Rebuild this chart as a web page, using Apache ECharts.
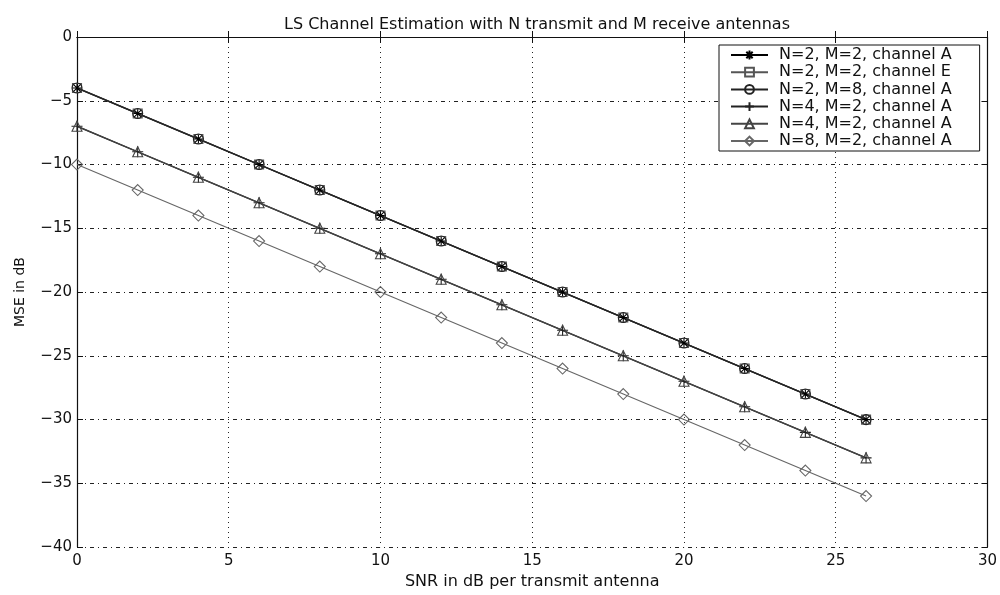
<!DOCTYPE html>
<html><head><meta charset="utf-8">
<script src="https://cdn.jsdelivr.net/npm/echarts@6/dist/echarts.min.js"></script>
<style>html,body{margin:0;padding:0;background:#fff}#c{width:1000px;height:595px}</style>
</head><body><div id="c"></div>
<script>
const snr = [0,2,4,6,8,10,12,14,16,18,20,22,24,26];
const n2m2A = [-4,-6,-8,-10,-12,-14,-16,-18,-20,-22,-24,-26,-28,-30];
const n2m2E = [-4,-6,-8,-10,-12,-14,-16,-18,-20,-22,-24,-26,-28,-30];
const n2m8A = [-4,-6,-8,-10,-12,-14,-16,-18,-20,-22,-24,-26,-28,-30];
const n4m2A_plus = [-7,-9,-11,-13,-15,-17,-19,-21,-23,-25,-27,-29,-31,-33];
const n4m2A_tri = [-7,-9,-11,-13,-15,-17,-19,-21,-23,-25,-27,-29,-31,-33];
const n8m2A = [-10,-12,-14,-16,-18,-20,-22,-24,-26,-28,-30,-32,-34,-36];
// trailing space only keeps the two identical labels distinct; trimmed when shown
const names = ['N=2, M=2, channel A','N=2, M=2, channel E','N=2, M=8, channel A','N=4, M=2, channel A','N=4, M=2, channel A ','N=8, M=2, channel A'];
const xTicks = {min:0,max:30,interval:5};
const yTicks = {min:-40,max:0,interval:5};

const FONT = 'DejaVu Sans, Liberation Sans, Arial, sans-serif';
const STAR = 'path://M0,-5L0,5M-5,0L5,0M-3.6,-3.6L3.6,3.6M-3.6,3.6L3.6,-3.6';
const PLUS = 'path://M0,-5L0,5M-5,0L5,0';
function pts(ys){ return snr.map((x,i)=>[x,ys[i]]); }
function mk(name, ys, symbol, color, size, width){
  return {
    name, type:'line', data:pts(ys), symbol, symbolSize:size,
    showAllSymbol:true, clip:false,
    lineStyle:{color, width},
    itemStyle:{color:'rgba(0,0,0,0)', borderColor:color, borderWidth:1.1},
    emphasis:{disabled:true}, z:3
  };
}
const minus = v => String(v).replace('-', '\u2212');
const chart = echarts.init(document.getElementById('c'), null, {renderer:'canvas'});
chart.setOption({
  animation:false,
  backgroundColor:'#fff',
  title:{text:'LS Channel Estimation with N transmit and M receive antennas', left:532, textAlign:'center', top:12,
    textStyle:{fontFamily:FONT, fontSize:16, fontWeight:'normal', color:'#111'}},
  grid:{left:77, right:12, top:37, bottom:38, containLabel:false},
  legend:{
    orient:'vertical', left:719, top:45,
    padding:[2,28,2,11], itemGap:1.2, itemWidth:37, itemHeight:11,
    backgroundColor:'#fff', borderColor:'#111', borderWidth:1,
    formatter: n => n.trim(),
    textStyle:{fontFamily:FONT, fontSize:16, color:'#111', padding:[0,0,0,6]},
    data:names, selectedMode:false
  },
  xAxis:[
    {type:'value', min:xTicks.min, max:xTicks.max, interval:xTicks.interval,
     name:'SNR in dB per transmit antenna', nameLocation:'middle', nameGap:24,
     nameTextStyle:{fontFamily:FONT, fontSize:16, color:'#111'},
     axisLine:{lineStyle:{color:'#111', width:1.2}},
     axisTick:{inside:true, length:6, lineStyle:{color:'#111'}},
     axisLabel:{fontFamily:FONT, fontSize:15, color:'#111', margin:7, formatter:minus},
     splitLine:{show:true, lineStyle:{color:'#222', width:1, type:[1,4]}}},
    {type:'value', position:'top', min:xTicks.min, max:xTicks.max, interval:xTicks.interval,
     axisLine:{show:true, onZero:false, lineStyle:{color:'#111', width:1.2}},
     axisTick:{inside:true, length:6, lineStyle:{color:'#111'}},
     axisLabel:{show:false}, splitLine:{show:false}}
  ],
  yAxis:[
    {type:'value', min:yTicks.min, max:yTicks.max, interval:yTicks.interval,
     name:'MSE in dB', nameLocation:'middle', nameGap:50,
     nameTextStyle:{fontFamily:FONT, fontSize:14, color:'#111'},
     axisLine:{show:true, onZero:false, lineStyle:{color:'#111', width:1.2}},
     axisTick:{show:true, inside:true, length:6, lineStyle:{color:'#111'}},
     axisLabel:{fontFamily:FONT, fontSize:15, color:'#111', margin:5, formatter:minus},
     splitLine:{show:true, lineStyle:{color:'#222', width:1, type:[4,4,1,4]}}},
    {type:'value', position:'right', min:yTicks.min, max:yTicks.max, interval:yTicks.interval,
     axisLine:{show:true, onZero:false, lineStyle:{color:'#111', width:1.2}},
     axisTick:{show:true, inside:true, length:6, lineStyle:{color:'#111'}},
     axisLabel:{show:false}, splitLine:{show:false}}
  ],
  series:[
    mk(names[0], n2m2A, STAR, '#000', 10, 1.4),
    mk(names[1], n2m2E, 'rect', '#555', 9, 1.3),
    mk(names[2], n2m8A, 'circle', '#222', 10, 1.3),
    mk(names[3], n4m2A_plus, PLUS, '#222', 11, 1.4),
    mk(names[4], n4m2A_tri, 'triangle', '#444', 10, 1.3),
    mk(names[5], n8m2A, 'diamond', '#666', 11, 1.1)
  ]
});
</script></body></html>
